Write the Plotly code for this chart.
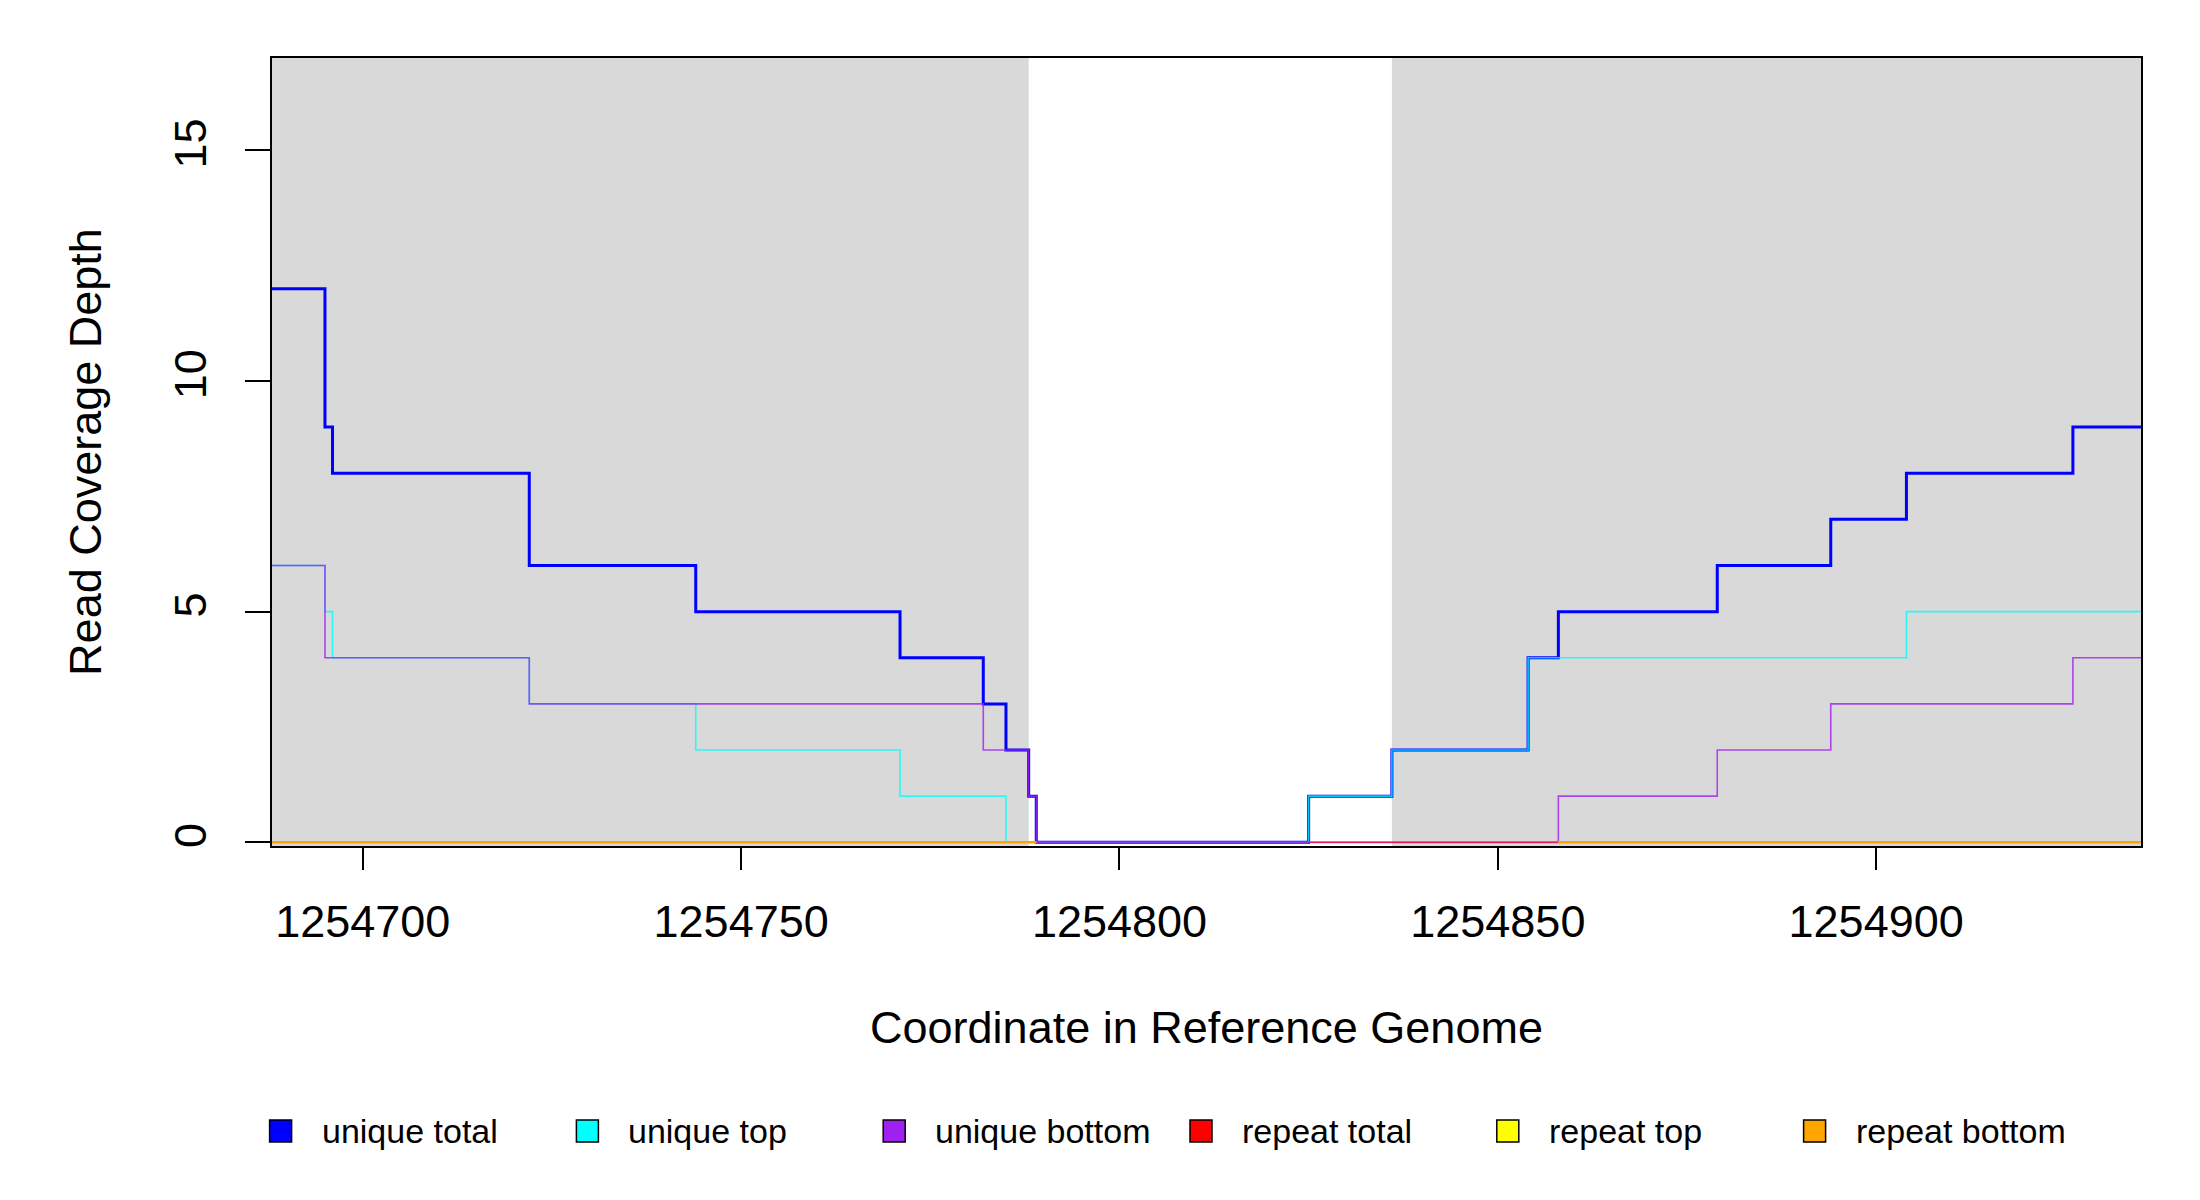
import plotly.graph_objects as go

# breakpoints along the reference genome (value holds until next breakpoint)
positions = [1254688, 1254695, 1254696, 1254722, 1254744, 1254771, 1254782,
             1254785, 1254788, 1254789, 1254825, 1254836, 1254854, 1254858,
             1254879, 1254894, 1254904, 1254926, 1254935]

unique_total = [12, 9, 8, 6, 5, 4, 3, 2, 1, 0, 1, 2, 4, 5, 6, 7, 8, 9, 9]
unique_top = [6, 5, 4, 3, 2, 1, 1, 0, 0, 0, 1, 2, 4, 4, 4, 4, 5, 5, 5]
unique_bottom = [6, 4, 4, 3, 3, 3, 2, 2, 1, 0, 0, 0, 0, 1, 2, 3, 3, 4, 4]
N = None
repeat_total = [N, N, N, N, N, N, N, N, N, N, 0, 0, 0, 0, N, N, N, N, N]
repeat_top = [0, 0, 0, 0, 0, 0, 0, 0, 0, 0, N, N, N, 0, 0, 0, 0, 0, 0]
repeat_bottom = [0, 0, 0, 0, 0, 0, 0, 0, 0, 0, N, N, N, 0, 0, 0, 0, 0, 0]

# shaded (grey) regions of the window
shade_starts = [1254688, 1254836]
shade_ends = [1254788, 1254935]

x_ticks = [1254700, 1254750, 1254800, 1254850, 1254900]
y_ticks = [0, 5, 10, 15]

series_names = ["unique total", "unique top", "unique bottom",
                "repeat total", "repeat top", "repeat bottom"]
series_values = [unique_total, unique_top, unique_bottom,
                 repeat_total, repeat_top, repeat_bottom]
series_colors = ["#0000FF", "#00FFFF", "#A020F0", "#FF0000", "#FFFF00", "#FFA500"]
series_widths = [3, 1.6, 1.6, 1.8, 1.6, 2.4]
series_opacity = [1.0, 0.8, 0.8, 0.6, 0.8, 1.0]

FONT = "Liberation Sans, Arial, sans-serif"
W, H = 2200, 1200
ML, MR, MT, MB = 264, 67, 50, 362
PW, PH = W - ML - MR, H - MT - MB
big_font = dict(family=FONT, size=45, color="black")


def paper_x(px):
    return (px - ML) / PW


def paper_y(py):
    return (H - MB - py) / PH


fig = go.Figure()

for name, vals, col, w, op in zip(series_names, series_values, series_colors,
                                  series_widths, series_opacity):
    fig.add_trace(go.Scatter(
        x=positions, y=vals, mode="lines", name=name,
        line=dict(color=col, width=w, shape="hv"),
        opacity=op, showlegend=False, hoverinfo="skip", connectgaps=False,
    ))

for x0, x1 in zip(shade_starts, shade_ends):
    fig.add_shape(type="rect", xref="x", yref="paper", x0=x0, x1=x1, y0=0, y1=1,
                  fillcolor="#D9D9D9", line_width=0, layer="below")

# legend row below the plot: filled squares + labels
leg_y = 1123
for i, (name, col) in enumerate(zip(series_names, series_colors)):
    cx = 272.6 + 306.8 * i
    fig.add_shape(type="rect", xref="paper", yref="paper",
                  x0=paper_x(cx - 11), x1=paper_x(cx + 11),
                  y0=paper_y(leg_y + 11), y1=paper_y(leg_y - 11),
                  fillcolor=col, line=dict(color="black", width=1.5))
    fig.add_annotation(xref="paper", yref="paper", x=paper_x(cx + 39), y=paper_y(leg_y),
                       xanchor="left", yanchor="middle", text=name, showarrow=False,
                       font=dict(family=FONT, size=34, color="black"))

fig.update_layout(
    width=W, height=H,
    margin=dict(l=ML, r=MR, t=MT, b=MB),
    plot_bgcolor="white", paper_bgcolor="white",
    font=big_font,
    showlegend=False,
)
fig.update_xaxes(
    range=[1254688, 1254935], tickvals=x_ticks, ticktext=[str(t) for t in x_ticks],
    ticks="outside", ticklen=22, tickwidth=2, tickcolor="black", tickfont=big_font,
    showline=True, mirror=True, linecolor="black", linewidth=1.5,
    showgrid=False, zeroline=False, ticklabelstandoff=13,
    title=dict(text="Coordinate in Reference Genome", standoff=66, font=big_font),
)
fig.update_yaxes(
    range=[-0.08, 17], tickvals=y_ticks, ticktext=[str(t) for t in y_ticks],
    tickangle=-90, ticks="outside", ticklen=25, tickwidth=2, tickcolor="black",
    tickfont=big_font,
    showline=True, mirror=True, linecolor="black", linewidth=1.5,
    showgrid=False, zeroline=False, ticklabelstandoff=21,
    title=dict(text="Read Coverage Depth", standoff=50, font=big_font),
)

fig.write_html("out.html")
